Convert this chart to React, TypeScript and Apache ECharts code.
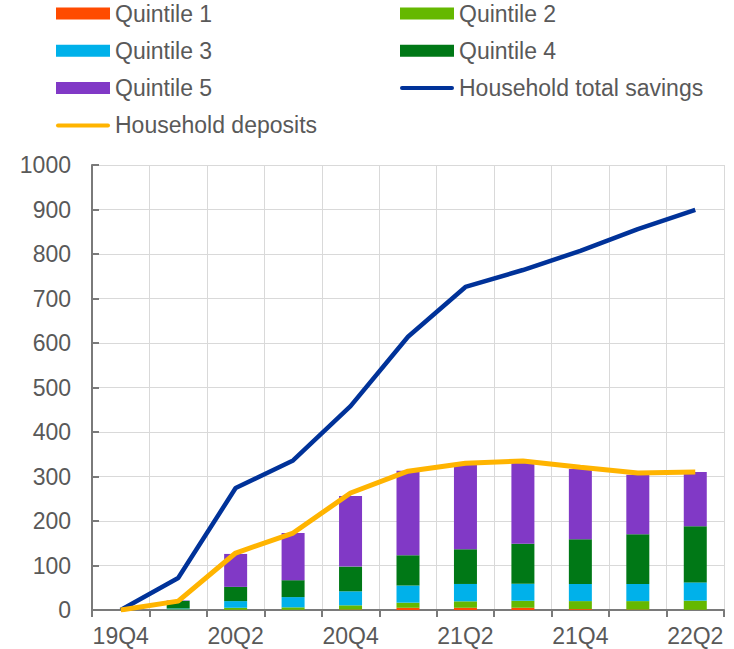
import React, { useEffect, useRef } from "react";
import * as echarts from "echarts";

const categories = ["19Q4", "20Q1", "20Q2", "20Q3", "20Q4", "21Q1", "21Q2", "21Q3", "21Q4", "22Q1", "22Q2"];
const quintile1 = [0, 0.5, 0.5, 0.5, 1, 5, 5, 5, 2, 1, 0.5];
const quintile2 = [0, 1, 4.5, 5.5, 9.5, 11.5, 14.5, 16, 18, 19, 20.5];
const quintile3 = [0, 2, 15, 23, 31.5, 38.5, 39, 38, 38.5, 38.5, 41];
const quintile4 = [0, 17, 32, 38, 55.5, 68, 78, 90, 100.5, 111.5, 126];
const quintile5 = [0, 1, 74, 106, 158.5, 190, 193.5, 185, 158, 134, 122];
const totalSavings = [0, 72, 274, 336, 458, 614, 726, 764, 807, 856, 899];
const deposits = [0, 20, 128, 173, 263, 312, 330, 335, 321, 308, 310];

const FONT = "'Liberation Sans', Arial, sans-serif";
const TEXT = "#595959";
const LINE_ICON = "path://M2,0 L52,0 A2,2 0 0 1 52,4 L2,4 A2,2 0 0 1 2,0 Z";

export default function App() {
  const ref = useRef<HTMLDivElement>(null);
  useEffect(() => {
    if (!ref.current) return;
    const chart = echarts.init(ref.current, undefined, { renderer: "svg" });
    const barSeries = (name: string, data: number[], color: string) => ({
      name,
      type: "bar",
      stack: "q",
      data,
      barWidth: 23,
      itemStyle: { color },
    });
    const legendBase = {
      orient: "vertical",
      top: 2,
      padding: 0,
      itemWidth: 54,
      itemHeight: 12,
      itemGap: 14.3,
      symbolKeepAspect: true,
      textStyle: { fontSize: 23, color: TEXT, fontFamily: FONT, lineHeight: 22 },
    };
    chart.setOption({
      animation: false,
      textStyle: { fontFamily: FONT },
      legend: [
        {
          ...legendBase,
          left: 56,
          data: [
            { name: "Quintile 1", icon: "rect" },
            { name: "Quintile 3", icon: "rect" },
            { name: "Quintile 5", icon: "rect" },
            { name: "Household deposits", icon: LINE_ICON },
          ],
        },
        {
          ...legendBase,
          left: 400,
          data: [
            { name: "Quintile 2", icon: "rect" },
            { name: "Quintile 4", icon: "rect" },
            { name: "Household total savings", icon: LINE_ICON },
          ],
        },
      ],
      grid: { left: 92, right: 10, top: 165, bottom: 39, containLabel: false },
      xAxis: {
        type: "category",
        data: categories,
        boundaryGap: true,
        axisLine: { lineStyle: { color: "#7a7a7a", width: 2 } },
        axisTick: { show: true, interval: 0, length: 7, lineStyle: { color: "#7a7a7a", width: 2 } },
        axisLabel: { interval: 1, fontSize: 23, color: TEXT, margin: 14, fontFamily: FONT },
        splitLine: { show: true, interval: 0, lineStyle: { color: "#d9d9d9", width: 1 } },
      },
      yAxis: {
        type: "value",
        min: 0,
        max: 1000,
        interval: 100,
        axisLine: { show: true, lineStyle: { color: "#7a7a7a", width: 2 } },
        axisTick: { show: true, inside: true, length: 7, lineStyle: { color: "#7a7a7a", width: 2 } },
        axisLabel: {
          fontSize: 23,
          color: TEXT,
          margin: 21,
          fontFamily: FONT,
          formatter: (v: number) => String(v),
        },
        splitLine: { show: true, lineStyle: { color: "#d9d9d9", width: 1 } },
      },
      series: [
        barSeries("Quintile 1", quintile1, "#FF4B00"),
        barSeries("Quintile 2", quintile2, "#65B800"),
        barSeries("Quintile 3", quintile3, "#00B1EA"),
        barSeries("Quintile 4", quintile4, "#007816"),
        barSeries("Quintile 5", quintile5, "#8139C6"),
        {
          name: "Household total savings",
          type: "line",
          data: totalSavings,
          symbol: "none",
          lineStyle: { color: "#003299", width: 4.5 },
          itemStyle: { color: "#003299" },
          z: 5,
        },
        {
          name: "Household deposits",
          type: "line",
          data: deposits,
          symbol: "none",
          lineStyle: { color: "#FFB400", width: 5 },
          itemStyle: { color: "#FFB400" },
          z: 6,
        },
      ],
    });
    return () => chart.dispose();
  }, []);
  return (
    <div
      ref={ref}
      style={{ position: "absolute", left: 0, top: 0, width: 734, height: 649, background: "#fff" }}
    />
  );
}
